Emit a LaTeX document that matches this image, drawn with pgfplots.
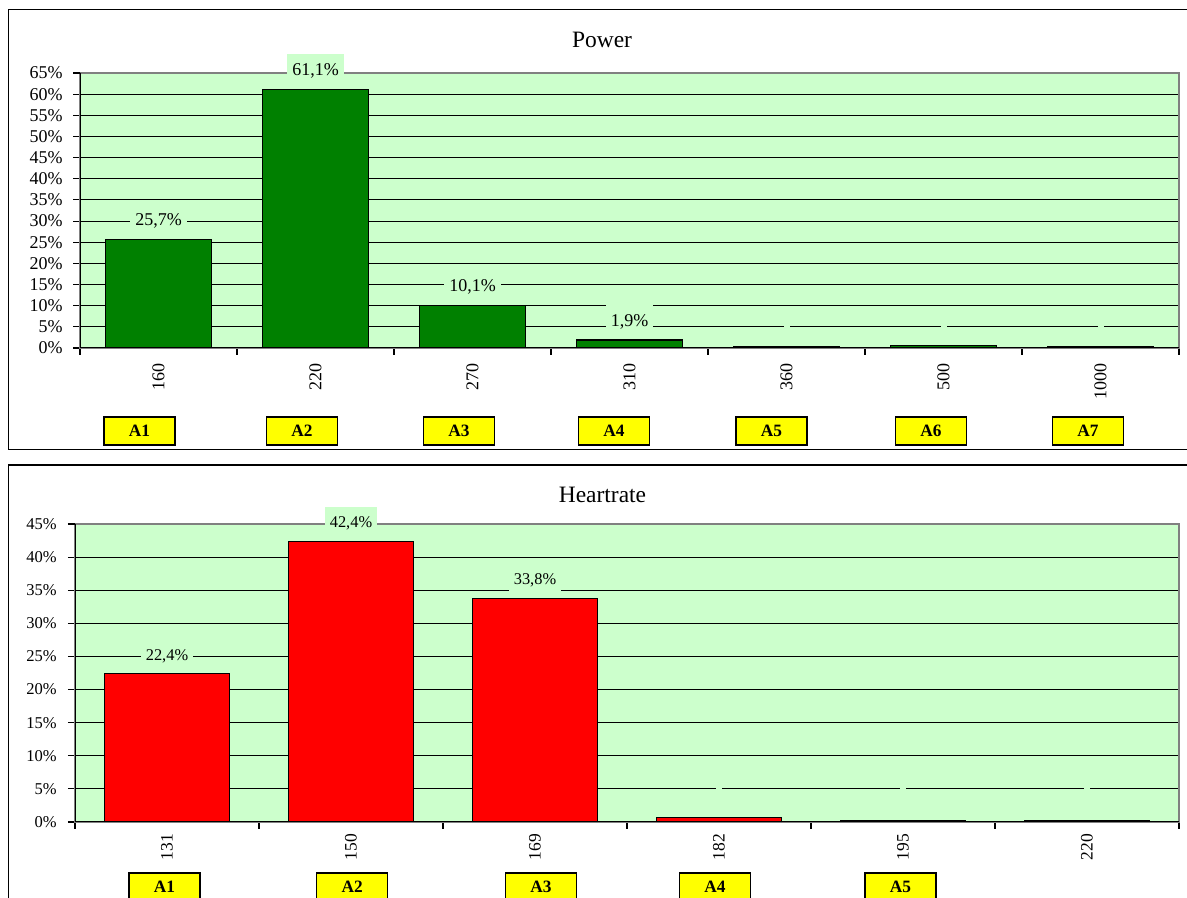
\documentclass[border=0pt]{standalone}
\usepackage{fontspec}
\setmainfont{Liberation Serif}
\usepackage{pgfplots}
\pgfplotsset{compat=1.18}
\definecolor{bg}{HTML}{CCFFCC}
\definecolor{bargreen}{HTML}{008000}
\definecolor{barred}{HTML}{FF0000}
\definecolor{boxyellow}{HTML}{FFFF00}
\definecolor{axisgray}{HTML}{808080}
\pgfplotsset{
  common/.style={
    anchor=south west, scale only axis,
    ybar, bar width=0.68,
    ymin=0,
    axis background/.style={fill=bg},
    axis line style={draw=axisgray, line width=0.9pt},
    tick align=outside, xtick pos=bottom, ytick pos=left,
    tick style={black, line width=0.8pt},
    major tick length=5.25pt,
    xticklabels={},
    ymajorgrids, grid style={black, line width=0.75pt},
    extra y tick style={grid=none},
    extra x tick style={major tick length=0pt},
    xticklabel style={rotate=90, anchor=east, inner sep=0pt},
    yticklabel style={inner sep=0pt, anchor=east},
    nodes near coords={\pgfplotspointmeta},
    point meta=explicit symbolic,
    every node near coord/.append style={fill=bg, inner xsep=3.75pt, inner ysep=0pt, anchor=south, yshift=0pt},
  }
}
\tikzset{abox/.style={draw=black, line width=1pt, fill=boxyellow, minimum width=53.25pt, minimum height=21pt, inner sep=0pt, font=\fontsize{13}{15}\selectfont\bfseries}}
\begin{document}
\begin{tikzpicture}
\path[use as bounding box] (0pt,0pt) rectangle (890.25pt,673.5pt);
\draw[line width=0.8pt] (6.375pt,666.375pt) rectangle (900pt,336.375pt);
\draw[line width=0.8pt] (6.375pt,324.75pt) rectangle (900pt,-7.5pt);

\node[anchor=base, font=\fontsize{17.6}{20}\selectfont] at (451.5pt,637.5pt) {Power};
\node[anchor=base, font=\fontsize{17.6}{20}\selectfont] at (451.875pt,296.25pt) {Heartrate};

\begin{axis}[common,
  at={(60pt,412.5pt)}, width=824.25pt, height=206.25pt,
  xmin=-0.5, xmax=6.5, ymax=65,
  xtick={-0.5,0.5,...,6.5},
  extra x ticks={0,1,2,3,4,5,6},
  extra x tick labels={160,220,270,310,360,500,1000},
  xticklabel shift=11.25pt,
  ytick={0,5,...,60},
  yticklabels={0\%,5\%,10\%,15\%,20\%,25\%,30\%,35\%,40\%,45\%,50\%,55\%,60\%},
  extra y ticks={65}, extra y tick labels={65\%},
  yticklabel shift=7.5pt,
  ticklabel style={font=\fontsize{13.5}{16}\selectfont},
  every node near coord/.append style={minimum height=26.25pt, font=\fontsize{13.5}{16}\selectfont},
]
\addplot[fill=bargreen, draw=black, line width=0.9pt] coordinates {
  (0,25.7) [25,7\%]
  (1,61.1) [61,1\%]
  (2,10.1) [10,1\%]
  (3,1.9) [1,9\%]
  (4,0.3) [\kern-3pt]
  (5,0.6) [\kern-3pt]
  (6,0.3) [\kern-3pt]
};
\draw[black, line width=0.9pt] (rel axis cs:0,1) -- (rel axis cs:0,0) -- (rel axis cs:1,0);
\end{axis}

\begin{axis}[common,
  at={(56.25pt,57pt)}, width=828pt, height=223.5pt,
  xmin=-0.5, xmax=5.5, ymax=45,
  xtick={-0.5,0.5,...,5.5},
  extra x ticks={0,1,2,3,4,5},
  extra x tick labels={131,150,169,182,195,220},
  xticklabel shift=9pt,
  ytick={0,5,...,40},
  yticklabels={0\%,5\%,10\%,15\%,20\%,25\%,30\%,35\%,40\%},
  extra y ticks={45}, extra y tick labels={45\%},
  yticklabel shift=8.25pt,
  xticklabel style={font=\fontsize{13.1}{16}\selectfont},
  yticklabel style={font=\fontsize{12.4}{15}\selectfont},
  every node near coord/.append style={minimum height=25.5pt, font=\fontsize{12.3}{15}\selectfont},
]
\addplot[fill=barred, draw=black, line width=0.9pt] coordinates {
  (0,22.4) [22,4\%]
  (1,42.4) [42,4\%]
  (2,33.8) [33,8\%]
  (3,0.7) [\kern-3pt]
  (4,0.2) [\kern-3pt]
  (5,0.2) [\kern-3pt]
};
\draw[black, line width=0.9pt] (rel axis cs:0,1) -- (rel axis cs:0,0) -- (rel axis cs:1,0);
\end{axis}

\foreach \cx/\lab in {104.625/A1,226.5/A2,344.25/A3,460.5/A4,578.625/A5,698.25/A6,816/A7}{
  \node[abox] at (\cx pt,350.25pt) {\lab};
}
\foreach \cx/\lab in {123.375/A1,264.225/A2,405.75/A3,536.25/A4,675.375/A5}{
  \node[abox] at (\cx pt,8.25pt) {\lab};
}
\end{tikzpicture}
\end{document}
